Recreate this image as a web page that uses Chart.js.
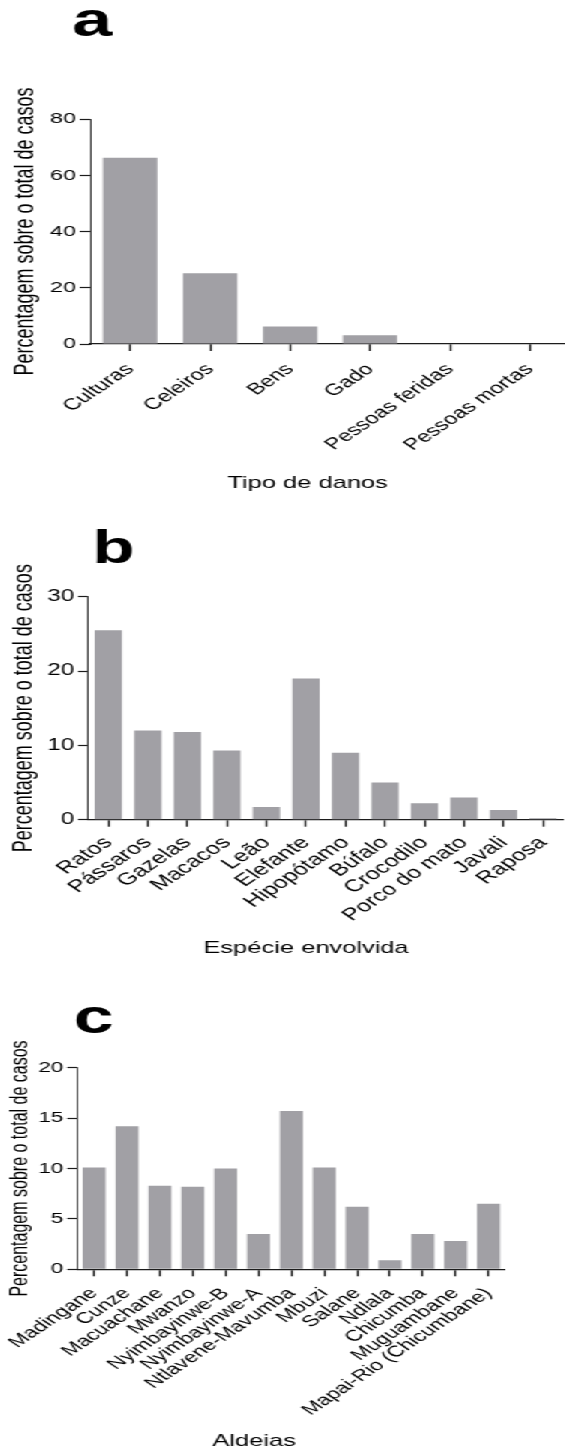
<!DOCTYPE html>
<html>
<head>
<meta charset="utf-8">
<script src="https://cdn.jsdelivr.net/npm/chart.js@4.4.1/dist/chart.umd.min.js"></script>
<style>
  html, body { margin:0; padding:0; background:#fff; }
  #outer { position:relative; width:565px; height:1450px; overflow:hidden; background:#fff; }
  #inner { position:absolute; left:0; top:0; width:381px; height:1450px; transform:scaleX(1.5); transform-origin:0 0; }
  canvas { position:absolute; left:0; }
</style>
</head>
<body>
<div id="outer"><div id="inner">
  <canvas id="ca" width="381" height="495" style="top:0px"></canvas>
  <canvas id="cb" width="381" height="465" style="top:495px"></canvas>
  <canvas id="cc" width="381" height="490" style="top:960px"></canvas>
</div></div>
<script>
// ---------- data ----------
const damageTypes = ['Culturas', 'Celeiros', 'Bens', 'Gado', 'Pessoas feridas', 'Pessoas mortas'];
const damagePct = [66.2, 25.2, 6.2, 3.1, 0, 0];
const damageTicks = [0, 20, 40, 60, 80];

const species = ['Ratos', 'Pássaros', 'Gazelas', 'Macacos', 'Leão', 'Elefante', 'Hipopótamo', 'Búfalo', 'Crocodilo', 'Porco do mato', 'Javali', 'Raposa'];
const speciesPct = [25.5, 12.0, 11.8, 9.3, 1.7, 19.0, 9.0, 5.0, 2.2, 3.0, 1.3, 0.2];
const speciesTicks = [0, 10, 20, 30];

const villages = ['Madingane', 'Cunze', 'Macuachane', 'Mwanzo', 'Nyimbayinwe-B', 'Nyimbayinwe-A', 'Ntlavene-Mavumba', 'Mbuzi', 'Salane', 'Ndlala', 'Chicumba', 'Muguambane', 'Mapai-Rio (Chicumbane)'];
const villagePct = [10.1, 14.2, 8.3, 8.2, 10.0, 3.5, 15.7, 10.1, 6.2, 0.9, 3.5, 2.8, 6.5];
const villageTicks = [0, 5, 10, 15, 20];

const yAxisTitle = 'Percentagem sobre o total de casos';
const xAxisTitles = ['Tipo de danos', 'Espécie envolvida', 'Aldeias'];
const panelLetters = ['a', 'b', 'c'];

// ---------- style ----------
const FONT = "'Liberation Sans', Arial, Helvetica, sans-serif";
const BAR = '#a1a0a5';
const INK = '#1c1c1c';
Chart.defaults.font.family = FONT;

const captionPlugin = {
  id: 'captions',
  afterDraw(chart, args, opts) {
    const ctx = chart.ctx;
    ctx.save();
    ctx.fillStyle = '#000';
    ctx.textBaseline = 'alphabetic';
    (opts.items || []).forEach(it => {
      ctx.font = (it.weight || 'normal') + ' ' + it.size + 'px ' + FONT;
      ctx.textAlign = it.align || 'left';
      ctx.fillText(it.text, it.x, it.y);
    });
    ctx.restore();
  }
};

function panel(id, labels, values, yTicks, g, captions) {
  const yMax = yTicks[yTicks.length - 1];
  return new Chart(document.getElementById(id), {
    type: 'bar',
    data: {
      labels: labels,
      datasets: [{ data: values, backgroundColor: BAR, borderWidth: 0, barPercentage: g.bar, categoryPercentage: 1 }]
    },
    options: {
      responsive: false,
      animation: false,
      devicePixelRatio: 1,
      layout: { padding: { top: g.top, right: g.right, left: 0, bottom: 0 } },
      plugins: {
        legend: { display: false },
        tooltip: { enabled: false },
        captions: { items: captions }
      },
      scales: {
        x: {
          offset: true,
          grid: { display: true, drawOnChartArea: false, offset: false, tickLength: 7, tickWidth: 1.3, tickColor: INK },
          border: { display: true, color: INK, width: 1.3 },
          ticks: { minRotation: 45, maxRotation: 45, autoSkip: false, padding: g.xpad, color: '#000', font: { family: FONT, size: g.xf } },
          afterFit: s => { s.height = g.xh; s.paddingLeft = 0; s.paddingRight = 0; }
        },
        y: {
          min: 0,
          max: yMax,
          afterBuildTicks: s => { s.ticks = yTicks.map(v => ({ value: v })); },
          grid: { display: true, drawOnChartArea: false, tickLength: 7, tickWidth: 1.2, tickColor: INK },
          border: { display: true, color: INK, width: 0.85 },
          ticks: { padding: 2.5, color: '#000', font: { family: FONT, size: g.yf } },
          title: { display: true, text: yAxisTitle, color: '#000', font: { family: FONT, size: g.tf }, padding: { top: g.tp, bottom: 0 } },
          afterFit: s => { s.width = g.yw; s.paddingTop = 0; s.paddingBottom = 0; }
        }
      }
    },
    plugins: [captionPlugin]
  });
}

const charts = [
  panel('ca', damageTypes, damagePct, damageTicks,
    { top: 119, right: 1, yw: 60, xh: 151, bar: 0.68, tp: 6, tf: 18, yf: 15.5, xf: 16, xpad: 9 },
    [
      { text: panelLetters[0], x: 48, y: 36, size: 48, weight: 'bold' },
      { text: xAxisTitles[0], x: 205, y: 488, size: 17, align: 'center' }
    ]),
  panel('cb', species, speciesPct, speciesTicks,
    { top: 101.7, right: 5.7, yw: 58.9, xh: 140.3, bar: 0.69, tp: 5, tf: 18, yf: 16, xf: 17, xpad: 6 },
    [
      { text: panelLetters[1], x: 61.5, y: 68, size: 46, weight: 'bold' },
      { text: xAxisTitles[1], x: 204, y: 458, size: 17, align: 'center' }
    ]),
  panel('cc', villages, villagePct, villageTicks,
    { top: 107.7, right: 44.3, yw: 51.7, xh: 180.7, bar: 0.70, tp: 3.6, tf: 16, yf: 15, xf: 15.5, xpad: 8 },
    [
      { text: panelLetters[2], x: 49, y: 73, size: 48, weight: 'bold' },
      { text: xAxisTitles[2], x: 169.3, y: 486, size: 17, align: 'center' }
    ])
];

// redraw once the system fonts are surely resolved
if (document.fonts && document.fonts.load) {
  Promise.all([
    document.fonts.load("16px 'Liberation Sans'"),
    document.fonts.load("bold 48px 'Liberation Sans'")
  ]).then(() => charts.forEach(ch => ch.update('none'))).catch(() => {});
}
</script>
</body>
</html>
